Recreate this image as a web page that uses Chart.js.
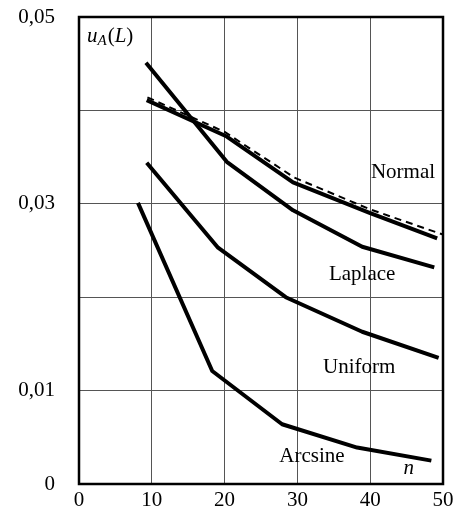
<!DOCTYPE html>
<html>
<head>
<meta charset="utf-8">
<script src="https://cdn.jsdelivr.net/npm/chart.js@4"></script>
<style>
  html, body { margin: 0; padding: 0; background: #fff; }
  #wrap { width: 459px; height: 510px; position: relative; }
</style>
</head>
<body>
<div id="wrap"><canvas id="c"></canvas></div>
<script>
// valores (n, u_A(L))
const nNormal   = [9.3, 20.3, 29.4, 40.0, 49.2];
const uNormal   = [0.0411, 0.0372, 0.0323, 0.0290, 0.0263];
const nTheory   = [9.4, 20.0, 29.6, 40.0, 50.0];
const uTheory   = [0.0414, 0.0377, 0.0328, 0.0294, 0.0267];
const nLaplace  = [9.2, 20.3, 29.4, 38.9, 48.8];
const uLaplace  = [0.0451, 0.0345, 0.0293, 0.0254, 0.0232];
const nUniform  = [9.3, 19.1, 28.4, 38.9, 49.4];
const uUniform  = [0.0344, 0.0253, 0.0200, 0.0163, 0.0135];
const nArcsine  = [8.1, 18.3, 27.9, 38.2, 48.4];
const uArcsine  = [0.0301, 0.0121, 0.0064, 0.0039, 0.0025];

const xTicks = [0, 10, 20, 30, 40, 50];
const yTickLabels = { "0": "0", "0.01": "0,01", "0.03": "0,03", "0.05": "0,05" };

// etiquetas dentro del area (posicion en unidades de datos)
const curveLabels = [
  { text: "Normal",  n: 44.5, u: 0.0333 },
  { text: "Laplace", n: 38.9, u: 0.0224 },
  { text: "Uniform", n: 38.5, u: 0.0125 },
  { text: "Arcsine", n: 32.0, u: 0.0029 }
];

const FONT = "Liberation Serif";

function pts(xs, ys) { return xs.map((x, i) => ({ x, y: ys[i] })); }

function serie(xs, ys, dash, width) {
  return {
    data: pts(xs, ys),
    borderColor: "#000",
    borderWidth: width,
    borderDash: dash,
    pointRadius: 0,
    showLine: true,
    fill: false,
    tension: 0,
    borderCapStyle: "butt",
    borderJoinStyle: "round"
  };
}

// quitar el relleno automatico que Chart.js deja para medio label
function sinPadding(s) {
  s.paddingTop = 0; s.paddingBottom = 0;
  s.paddingLeft = 0; s.paddingRight = 0;
}

/* ---- plugin: marco y textos ---- */
const extras = {
  id: "extras",
  afterDraw(chart) {
    const { ctx, chartArea: a, scales } = chart;
    const sx = scales.x, sy = scales.y;
    ctx.save();
    ctx.strokeStyle = "#000";
    ctx.lineWidth = 2.5;
    ctx.strokeRect(a.left, a.top, a.right - a.left, a.bottom - a.top);

    ctx.fillStyle = "#000";
    ctx.textBaseline = "middle";
    ctx.textAlign = "center";
    ctx.font = "21px '" + FONT + "'";
    curveLabels.forEach(l => {
      ctx.fillText(l.text, sx.getPixelForValue(l.n), sy.getPixelForValue(l.u));
    });

    // n (eje)
    ctx.font = "italic 21px '" + FONT + "'";
    ctx.fillText("n", sx.getPixelForValue(45.3), sy.getPixelForValue(0.0017));

    // u_A(L)
    ctx.textAlign = "left";
    let x = sx.getPixelForValue(1.1);
    const y = sy.getPixelForValue(0.0479);
    ctx.font = "italic 21px '" + FONT + "'";
    ctx.fillText("u", x, y);
    x += ctx.measureText("u").width;
    ctx.font = "italic 15px '" + FONT + "'";
    ctx.fillText("A", x, y + 4);
    x += ctx.measureText("A").width + 1;
    ctx.font = "21px '" + FONT + "'";
    ctx.fillText("(", x, y);
    x += ctx.measureText("(").width;
    ctx.font = "italic 21px '" + FONT + "'";
    ctx.fillText("L", x, y);
    x += ctx.measureText("L").width;
    ctx.font = "21px '" + FONT + "'";
    ctx.fillText(")", x, y);
    ctx.restore();
  }
};

new Chart(document.getElementById("c"), {
  type: "scatter",
  data: {
    datasets: [
      serie(nTheory, uTheory, [7, 5], 2),
      serie(nNormal, uNormal, [], 4),
      serie(nLaplace, uLaplace, [], 4),
      serie(nUniform, uUniform, [], 4),
      serie(nArcsine, uArcsine, [], 4)
    ]
  },
  options: {
    responsive: true,
    maintainAspectRatio: false,
    animation: false,
    layout: { padding: { top: 17, right: 16, left: 0, bottom: 0 } },
    plugins: { legend: { display: false }, tooltip: { enabled: false } },
    scales: {
      x: {
        type: "linear",
        min: 0, max: 50,
        afterBuildTicks: s => { s.ticks = xTicks.map(v => ({ value: v })); },
        grid: { color: "#555", lineWidth: 1, drawTicks: false },
        border: { display: false },
        ticks: { color: "#000", padding: 4, maxRotation: 0, font: { family: FONT, size: 21 } },
        afterFit: s => { s.height = 26; sinPadding(s); }
      },
      y: {
        type: "linear",
        min: 0, max: 0.05,
        ticks: {
          stepSize: 0.01,
          color: "#000",
          padding: 24,
          font: { family: FONT, size: 21 },
          callback: v => yTickLabels[String(Math.round(v * 100) / 100)] || ""
        },
        grid: { color: "#555", lineWidth: 1, drawTicks: false },
        border: { display: false },
        afterFit: s => { s.width = 79; sinPadding(s); }
      }
    }
  },
  plugins: [extras]
});
</script>
</body>
</html>
